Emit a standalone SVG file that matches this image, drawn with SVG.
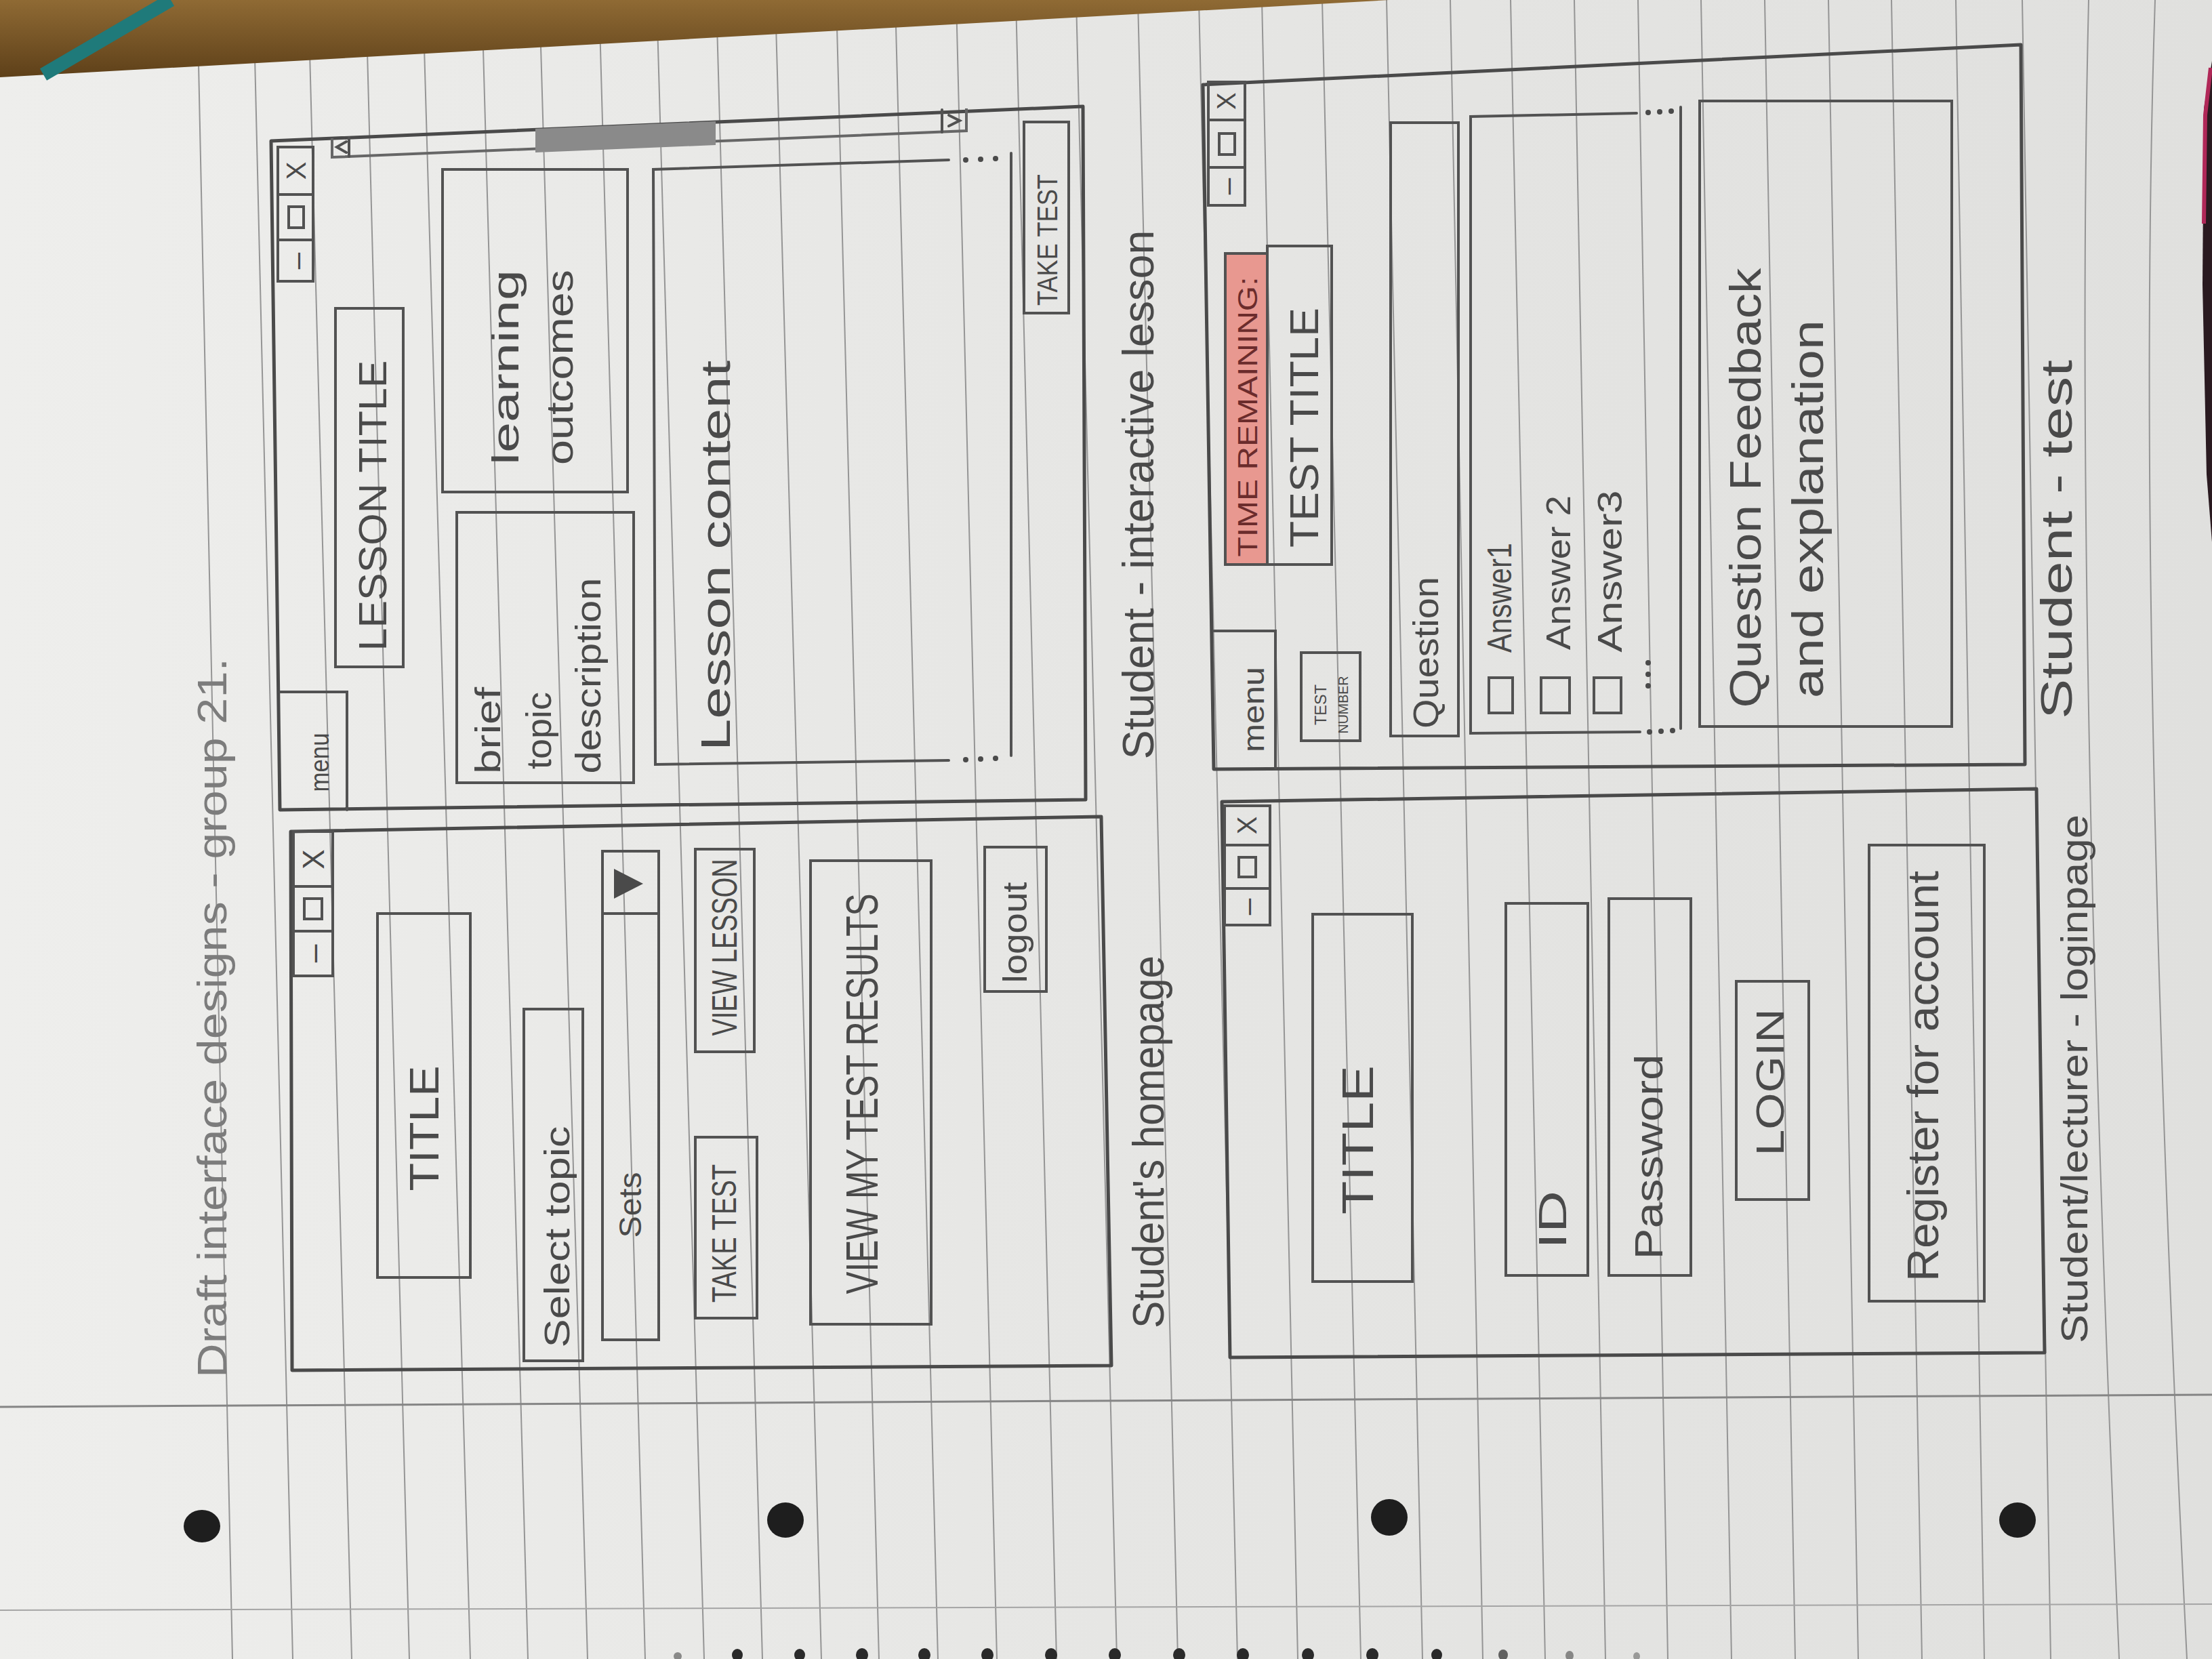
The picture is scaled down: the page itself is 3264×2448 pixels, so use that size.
<svg xmlns="http://www.w3.org/2000/svg" width="3264" height="2448" viewBox="0 0 3264 2448">
<defs>
<linearGradient id="paperG" x1="0" y1="0" x2="1" y2="0">
<stop offset="0" stop-color="#eeeeec"/>
<stop offset="0.5" stop-color="#e6e6e4"/>
<stop offset="1" stop-color="#e0e0de"/>
</linearGradient>
<linearGradient id="woodG" x1="0" y1="0" x2="0" y2="1">
<stop offset="0" stop-color="#8f6a34"/>
<stop offset="1" stop-color="#5e4019"/>
</linearGradient>
<style>
.rule{stroke:#959595;stroke-width:2;fill:none}
.frame{fill:none;stroke:#4a4a4a;stroke-width:5;stroke-linejoin:round}
.box{fill:none;stroke:#525252;stroke-width:4}
.ln{fill:none;stroke:#525252;stroke-width:4;stroke-linecap:round}
.t{font-family:"Liberation Sans Narrow","Liberation Sans",sans-serif;fill:#4a4a4a;text-anchor:middle;dominant-baseline:central}
.dot{fill:#4a4a4a}
</style>
</defs>

<g id="paper">
<rect x="0" y="0" width="3264" height="2448" fill="url(#paperG)"/>
<g id="rules">
<line class="rule" x1="291" y1="0" x2="343" y2="2448"/>
<line class="rule" x1="374" y1="0" x2="432" y2="2448"/>
<line class="rule" x1="455" y1="0" x2="519" y2="2448"/>
<line class="rule" x1="540" y1="0" x2="604" y2="2448"/>
<line class="rule" x1="624" y1="0" x2="694" y2="2448"/>
<line class="rule" x1="711" y1="0" x2="779" y2="2448"/>
<line class="rule" x1="796" y1="0" x2="867" y2="2448"/>
<line class="rule" x1="884" y1="0" x2="952" y2="2448"/>
<line class="rule" x1="969" y1="0" x2="1039" y2="2448"/>
<line class="rule" x1="1057" y1="0" x2="1125" y2="2448"/>
<line class="rule" x1="1144" y1="0" x2="1212" y2="2448"/>
<line class="rule" x1="1234" y1="0" x2="1297" y2="2448"/>
<line class="rule" x1="1321" y1="0" x2="1384" y2="2448"/>
<line class="rule" x1="1411" y1="0" x2="1471" y2="2448"/>
<line class="rule" x1="1499" y1="0" x2="1559" y2="2448"/>
<line class="rule" x1="1588" y1="0" x2="1648" y2="2448"/>
<line class="rule" x1="1679" y1="0" x2="1738" y2="2448"/>
<line class="rule" x1="1769" y1="0" x2="1826" y2="2448"/>
<line class="rule" x1="1862" y1="0" x2="1915" y2="2448"/>
<line class="rule" x1="1951" y1="0" x2="2008" y2="2448"/>
<line class="rule" x1="2046" y1="0" x2="2099" y2="2448"/>
<line class="rule" x1="2140" y1="0" x2="2188" y2="2448"/>
<line class="rule" x1="2229" y1="0" x2="2280" y2="2448"/>
<line class="rule" x1="2323" y1="0" x2="2369" y2="2448"/>
<line class="rule" x1="2417" y1="0" x2="2461" y2="2448"/>
<line class="rule" x1="2510" y1="0" x2="2555" y2="2448"/>
<line class="rule" x1="2604" y1="0" x2="2649" y2="2448"/>
<line class="rule" x1="2698" y1="0" x2="2742" y2="2448"/>
<line class="rule" x1="2791" y1="0" x2="2836" y2="2448"/>
<line class="rule" x1="2886" y1="0" x2="2928" y2="2448"/>
<line class="rule" x1="2984" y1="0" x2="3026" y2="2448"/>
<path class="rule" d="M3082,0 Q3060,900 3127,2448"/>
<path class="rule" d="M3180,0 Q3150,900 3227,2448"/>
</g>
<line x1="0" y1="2076" x2="3264" y2="2058" stroke="#858585" stroke-width="3"/>
<line x1="0" y1="2376" x2="3264" y2="2367" stroke="#a5a5a5" stroke-width="2"/>
<g id="holes" fill="#1e1e1e">
<ellipse cx="298" cy="2252" rx="27" ry="24"/>
<ellipse cx="1159" cy="2243" rx="27" ry="26"/>
<ellipse cx="2050" cy="2239" rx="27" ry="27"/>
<ellipse cx="2977" cy="2243" rx="27" ry="26"/>
</g>
<g id="spiral" fill="#2a2a2a">
<ellipse cx="1000" cy="2444" rx="6" ry="6" opacity="0.5"/>
<ellipse cx="1088" cy="2442" rx="8" ry="9"/>
<ellipse cx="1180" cy="2442" rx="8" ry="9"/>
<ellipse cx="1272" cy="2442" rx="9" ry="10"/>
<ellipse cx="1364" cy="2442" rx="9" ry="10"/>
<ellipse cx="1457" cy="2442" rx="9" ry="10"/>
<ellipse cx="1551" cy="2442" rx="9" ry="10"/>
<ellipse cx="1645" cy="2442" rx="9" ry="10"/>
<ellipse cx="1740" cy="2442" rx="9" ry="10"/>
<ellipse cx="1834" cy="2442" rx="9" ry="10"/>
<ellipse cx="1930" cy="2442" rx="9" ry="10"/>
<ellipse cx="2025" cy="2442" rx="9" ry="10"/>
<ellipse cx="2120" cy="2442" rx="8" ry="9"/>
<ellipse cx="2218" cy="2442" rx="7" ry="8" opacity="0.7"/>
<ellipse cx="2316" cy="2443" rx="6" ry="7" opacity="0.5"/>
<ellipse cx="2415" cy="2444" rx="5" ry="6" opacity="0.4"/>
</g>
<polygon points="0,0 2050,0 0,114" fill="url(#woodG)"/>
<line x1="64" y1="110" x2="252" y2="0" stroke="#1f7a7a" stroke-width="20"/>
<polygon points="3264,90 3252,160 3250,420 3256,700 3264,800" fill="#2a1a20"/>
<polyline points="3262,100 3254,170 3252,330" fill="none" stroke="#b02858" stroke-width="6"/>
</g>

<g id="homepage">
<polygon class="frame" points="429,1227 1625,1205 1640,2015 431,2022"/>
<rect class="box" x="433" y="1227" width="58" height="213"/>
<line class="ln" x1="433" y1="1308" x2="491" y2="1308"/>
<line class="ln" x1="433" y1="1374" x2="491" y2="1374"/>
<text class="t" transform="translate(462,1268) rotate(-90)" font-size="44">X</text>
<rect class="box" x="449" y="1326" width="26" height="30"/>
<text class="t" transform="translate(462,1407) rotate(-90)" font-size="48">–</text>
<rect class="box" x="557" y="1348" width="137" height="537"/>
<text class="t" transform="translate(625,1665) rotate(-90)" font-size="62" textLength="185" lengthAdjust="spacingAndGlyphs">TITLE</text>
<rect class="box" x="773" y="1489" width="87" height="519"/>
<text class="t" transform="translate(822,1825) rotate(-90)" font-size="52" textLength="327" lengthAdjust="spacingAndGlyphs">Select topic</text>
<rect class="box" x="889" y="1256" width="83" height="721"/>
<line class="ln" x1="889" y1="1348" x2="972" y2="1348"/>
<polygon points="906,1282 906,1326 949,1304" fill="#4a4a4a"/>
<text class="t" transform="translate(930,1778) rotate(-90)" font-size="46" textLength="97" lengthAdjust="spacingAndGlyphs">Sets</text>
<rect class="box" x="1026" y="1253" width="87" height="299"/>
<text class="t" transform="translate(1069,1398) rotate(-90)" font-size="52" textLength="261" lengthAdjust="spacingAndGlyphs">VIEW LESSON</text>
<rect class="box" x="1026" y="1678" width="91" height="267"/>
<text class="t" transform="translate(1069,1820) rotate(-90)" font-size="50" textLength="204" lengthAdjust="spacingAndGlyphs">TAKE TEST</text>
<rect class="box" x="1196" y="1270" width="178" height="684"/>
<text class="t" transform="translate(1272,1614) rotate(-90)" font-size="66" textLength="591" lengthAdjust="spacingAndGlyphs">VIEW MY TEST RESULTS</text>
<rect class="box" x="1453" y="1250" width="91" height="213"/>
<text class="t" transform="translate(1498,1376) rotate(-90)" font-size="50" textLength="149" lengthAdjust="spacingAndGlyphs">logout</text>
</g>

<g id="lesson">
<polygon class="frame" points="400,208 1598,157 1602,1180 413,1195"/>
<rect class="box" x="410" y="217" width="52" height="198"/>
<line class="ln" x1="410" y1="287" x2="462" y2="287"/>
<line class="ln" x1="410" y1="354" x2="462" y2="354"/>
<text class="t" transform="translate(437,252) rotate(-90)" font-size="40">X</text>
<rect class="box" x="426" y="305" width="22" height="31"/>
<text class="t" transform="translate(437,385) rotate(-90)" font-size="44">–</text>
<path class="ln" d="M413,1021 H512 V1195"/>
<text class="t" transform="translate(472,1125) rotate(-90)" font-size="38" textLength="87" lengthAdjust="spacingAndGlyphs">menu</text>
<rect class="box" x="495" y="455" width="100" height="529"/>
<text class="t" transform="translate(549,746) rotate(-90)" font-size="58" textLength="429" lengthAdjust="spacingAndGlyphs">LESSON TITLE</text>
<polyline points="490,204 490,232 1426,193 1426,160" fill="none" stroke="#666" stroke-width="4"/>
<polygon points="790,190 1056,179 1056,214 790,225" fill="#8a8a8a"/>
<line class="ln" x1="515" y1="203" x2="515" y2="231"/>
<line class="ln" x1="1390" y1="162" x2="1390" y2="195"/>
<path class="ln" d="M511,209 L497,217 L511,225" stroke-width="3"/>
<path class="ln" d="M1400,170 L1416,178 L1400,186" stroke-width="3"/>
<rect class="box" x="674" y="756" width="261" height="399"/>
<text class="t" transform="translate(720,1078) rotate(-90)" font-size="52" textLength="128" lengthAdjust="spacingAndGlyphs">brief</text>
<text class="t" transform="translate(795,1078) rotate(-90)" font-size="52" textLength="114" lengthAdjust="spacingAndGlyphs">topic</text>
<text class="t" transform="translate(868,997) rotate(-90)" font-size="52" textLength="289" lengthAdjust="spacingAndGlyphs">description</text>
<rect class="box" x="653" y="250" width="273" height="476"/>
<text class="t" transform="translate(745,542) rotate(-90)" font-size="56" textLength="288" lengthAdjust="spacingAndGlyphs">learning</text>
<text class="t" transform="translate(825,542) rotate(-90)" font-size="56" textLength="288" lengthAdjust="spacingAndGlyphs">outcomes</text>
<path class="ln" d="M1400,236 L964,250 L967,1128 L1400,1122"/>
<line class="ln" x1="1492" y1="226" x2="1492" y2="1115"/>
<circle class="dot" cx="1425" cy="236" r="4"/><circle class="dot" cx="1447" cy="235" r="4"/><circle class="dot" cx="1469" cy="234" r="4"/>
<circle class="dot" cx="1425" cy="1121" r="4"/><circle class="dot" cx="1447" cy="1120" r="4"/><circle class="dot" cx="1469" cy="1119" r="4"/>
<text class="t" transform="translate(1055,820) rotate(-90)" font-size="62" textLength="576" lengthAdjust="spacingAndGlyphs">Lesson content</text>
<rect class="box" x="1511" y="180" width="66" height="282"/>
<text class="t" transform="translate(1545,354) rotate(-90)" font-size="42" textLength="194" lengthAdjust="spacingAndGlyphs">TAKE TEST</text>
</g>

<g id="test">
<polygon class="frame" points="1775,125 2982,66 2988,1128 1791,1135"/>
<rect class="box" x="1783" y="121" width="54" height="182"/>
<line class="ln" x1="1783" y1="177" x2="1837" y2="177"/>
<line class="ln" x1="1783" y1="247" x2="1837" y2="247"/>
<text class="t" transform="translate(1810,149) rotate(-90)" font-size="38">X</text>
<rect class="box" x="1799" y="197" width="23" height="31"/>
<text class="t" transform="translate(1810,275) rotate(-90)" font-size="44">–</text>
<rect x="1808" y="374" width="62" height="459" fill="#e89890" stroke="#525252" stroke-width="4"/>
<text class="t" transform="translate(1841,615) rotate(-90)" font-size="40" textLength="413" lengthAdjust="spacingAndGlyphs" style="fill:#6b2c2c">TIME REMAINING:</text>
<rect class="box" x="1870" y="363" width="95" height="470"/>
<text class="t" transform="translate(1924,631) rotate(-90)" font-size="60" textLength="354" lengthAdjust="spacingAndGlyphs">TEST TITLE</text>
<path class="ln" d="M1791,931 H1882 V1133"/>
<text class="t" transform="translate(1849,1047) rotate(-90)" font-size="44" textLength="126" lengthAdjust="spacingAndGlyphs">menu</text>
<rect class="box" x="1920" y="963" width="87" height="130"/>
<text class="t" transform="translate(1948,1040) rotate(-90)" font-size="24" textLength="60" lengthAdjust="spacingAndGlyphs">TEST</text>
<text class="t" transform="translate(1982,1040) rotate(-90)" font-size="20" textLength="85" lengthAdjust="spacingAndGlyphs">NUMBER</text>
<rect class="box" x="2052" y="181" width="100" height="905"/>
<text class="t" transform="translate(2104,963) rotate(-90)" font-size="52" textLength="224" lengthAdjust="spacingAndGlyphs">Question</text>
<path class="ln" d="M2415,167 L2170,172 L2170,1082 L2420,1080"/>
<line class="ln" x1="2480" y1="158" x2="2480" y2="1075"/>
<circle class="dot" cx="2432" cy="166" r="4"/><circle class="dot" cx="2449" cy="165" r="4"/><circle class="dot" cx="2466" cy="164" r="4"/>
<circle class="dot" cx="2434" cy="1080" r="4"/><circle class="dot" cx="2451" cy="1079" r="4"/><circle class="dot" cx="2468" cy="1078" r="4"/>
<circle class="dot" cx="2432" cy="978" r="4"/><circle class="dot" cx="2432" cy="995" r="4"/><circle class="dot" cx="2432" cy="1012" r="4"/>
<rect class="box" x="2197" y="1000" width="35" height="52"/>
<rect class="box" x="2274" y="1000" width="42" height="52"/>
<rect class="box" x="2352" y="1000" width="40" height="52"/>
<text class="t" transform="translate(2213,882) rotate(-90)" font-size="50" textLength="162" lengthAdjust="spacingAndGlyphs">Answer1</text>
<text class="t" transform="translate(2300,845) rotate(-90)" font-size="50" textLength="228" lengthAdjust="spacingAndGlyphs">Answer 2</text>
<text class="t" transform="translate(2376,843) rotate(-90)" font-size="50" textLength="239" lengthAdjust="spacingAndGlyphs">Answer3</text>
<rect class="box" x="2508" y="149" width="372" height="923"/>
<text class="t" transform="translate(2576,720) rotate(-90)" font-size="64" textLength="649" lengthAdjust="spacingAndGlyphs">Question Feedback</text>
<text class="t" transform="translate(2668,751) rotate(-90)" font-size="64" textLength="558" lengthAdjust="spacingAndGlyphs">and explanation</text>
</g>

<g id="login">
<polygon class="frame" points="1803,1183 3005,1164 3017,1996 1815,2003"/>
<rect class="box" x="1807" y="1189" width="67" height="176"/>
<line class="ln" x1="1807" y1="1247" x2="1874" y2="1247"/>
<line class="ln" x1="1807" y1="1311" x2="1874" y2="1311"/>
<text class="t" transform="translate(1840,1218) rotate(-90)" font-size="40">X</text>
<rect class="box" x="1828" y="1265" width="25" height="29"/>
<text class="t" transform="translate(1840,1338) rotate(-90)" font-size="44">–</text>
<rect class="box" x="1937" y="1349" width="147" height="542"/>
<text class="t" transform="translate(2004,1682) rotate(-90)" font-size="64" textLength="220" lengthAdjust="spacingAndGlyphs">TITLE</text>
<rect class="box" x="2222" y="1333" width="121" height="549"/>
<text class="t" transform="translate(2290,1800) rotate(-90)" font-size="58" textLength="86" lengthAdjust="spacingAndGlyphs">ID</text>
<rect class="box" x="2374" y="1326" width="121" height="556"/>
<text class="t" transform="translate(2432,1707) rotate(-90)" font-size="58" textLength="303" lengthAdjust="spacingAndGlyphs">Password</text>
<rect class="box" x="2562" y="1448" width="107" height="322"/>
<text class="t" transform="translate(2611,1597) rotate(-90)" font-size="58" textLength="217" lengthAdjust="spacingAndGlyphs">LOGIN</text>
<rect class="box" x="2758" y="1247" width="170" height="673"/>
<text class="t" transform="translate(2838,1588) rotate(-90)" font-size="64" textLength="606" lengthAdjust="spacingAndGlyphs">Register for account</text>
</g>

<g id="captions">
<text class="t" transform="translate(312,1502) rotate(-90)" font-size="62" textLength="1062" lengthAdjust="spacingAndGlyphs" style="fill:#7c7c7c">Draft interface designs - group 21.</text>
<text class="t" transform="translate(1695,1685) rotate(-90)" font-size="64" textLength="550" lengthAdjust="spacingAndGlyphs">Student's homepage</text>
<text class="t" transform="translate(1680,730) rotate(-90)" font-size="64" textLength="781" lengthAdjust="spacingAndGlyphs">Student - interactive lesson</text>
<text class="t" transform="translate(3035,796) rotate(-90)" font-size="64" textLength="530" lengthAdjust="spacingAndGlyphs">Student - test</text>
<text class="t" transform="translate(3060,1592) rotate(-90)" font-size="56" textLength="780" lengthAdjust="spacingAndGlyphs">Student/lecturer - loginpage</text>
</g>
</svg>
